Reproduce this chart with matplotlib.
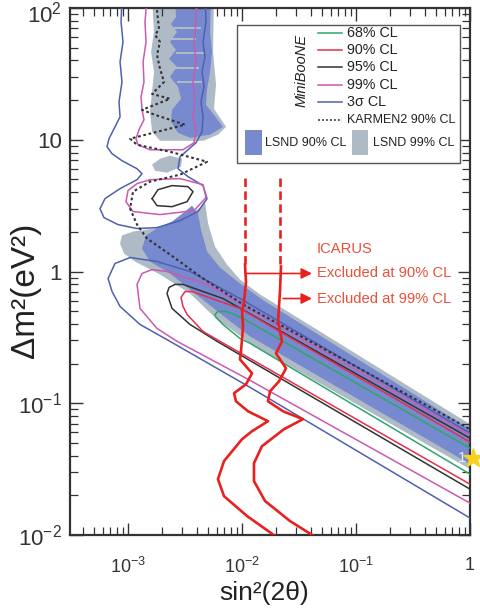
import numpy as np
import matplotlib
matplotlib.use('Agg')
import matplotlib.pyplot as plt
from matplotlib.patches import Rectangle
from matplotlib.lines import Line2D
from matplotlib.ticker import LogLocator, NullFormatter

plt.rcParams['font.family'] = ['Liberation Sans', 'DejaVu Sans']
plt.rcParams['mathtext.fontset'] = 'custom'
plt.rcParams['mathtext.rm'] = 'Liberation Sans'
plt.rcParams['mathtext.it'] = 'Liberation Sans:italic'
plt.rcParams['mathtext.bf'] = 'Liberation Sans:bold'

# ---------------- data (log10 of sin^2(2theta), log10 of dm^2) ----------------
# LSND 99% CL (grey) regions
lsnd99_top_x = [-2.789, -2.772, -2.798, -2.772, -2.789, -2.807, -2.789, -2.719, -2.342, -2.211, -2.140, -2.246, -2.228, -2.254, -2.246]
lsnd99_top_y = [2.083, 1.818, 1.667, 1.515, 1.364, 1.212, 1.061, 0.992, 0.992, 1.038, 1.098, 1.235, 1.417, 1.667, 2.083]
lsnd99_blob_x = [-2.789, -2.719, -2.632, -2.526, -2.535, -2.658, -2.763]
lsnd99_blob_y = [0.811, 0.856, 0.879, 0.856, 0.795, 0.750, 0.765]
lsnd99_low_x = [-2.325, -2.298, -2.237, -2.132, -2.018, -1.842, 0.0, 0.0, -1.930, -2.105, -2.219, -2.456, -2.719,
                -2.939, -3.035, -3.070, -3.053, -2.956, -2.719, -2.518, -2.368]
lsnd99_low_y = [0.530, 0.364, 0.189, 0.053, -0.061, -0.174, -1.159, -1.500, -0.545, -0.432, -0.364, -0.167, -0.023,
                0.076, 0.136, 0.212, 0.273, 0.303, 0.333, 0.394, 0.485]

# LSND 90% CL (blue) regions
lsnd90_top_x = [-2.588, -2.579, -2.623, -2.570, -2.632, -2.579, -2.640, -2.570, -2.632, -2.561, -2.535, -2.614,
                -2.623, -2.561, -2.456, -2.281, -2.167, -2.246, -2.316, -2.307, -2.281, -2.263, -2.281, -2.272]
lsnd90_top_y = [2.083, 1.932, 1.879, 1.818, 1.742, 1.682, 1.614, 1.553, 1.477, 1.402, 1.311, 1.227,
                1.136, 1.053, 1.015, 1.038, 1.098, 1.189, 1.265, 1.379, 1.515, 1.667, 1.818, 2.083]
# thin grey gaps (horizontal stripes) inside the upper blue region: [x_left, x_right, y_low, y_high]
lsnd90_gap_xl = [-2.60, -2.62, -2.58, -2.60, -2.57]
lsnd90_gap_xr = [-2.36, -2.40, -2.33, -2.38, -2.35]
lsnd90_gap_ylo = [1.840, 1.760, 1.650, 1.540, 1.430]
lsnd90_gap_yhi = [1.852, 1.772, 1.664, 1.552, 1.445]
lsnd90_low_x = [-2.439, -2.386, -2.360, -2.307, -2.193, -2.018, -1.825, 0.0, 0.0, -1.930, -2.149, -2.368, -2.632,
                -2.807, -2.877, -2.842, -2.737, -2.614, -2.500]
lsnd90_low_y = [0.500, 0.439, 0.318, 0.152, 0.030, -0.091, -0.212, -1.197, -1.462, -0.492, -0.348, -0.197, -0.015,
                0.076, 0.174, 0.273, 0.333, 0.379, 0.455]

# MiniBooNE contours
mb3s_up_x = [-3.053, -3.061, -3.044, -3.070, -3.053, -3.079, -3.070, -3.123, -3.167, -3.184, -3.140, -3.053, -2.921,
             -2.877, -2.921, -3.070, -3.202, -3.246, -3.211, -3.088, -2.921, -2.746, -2.544, -2.386, -2.307, -2.342,
             -2.474, -2.561, -2.544, -2.404, -2.351, -2.342, -2.360, -2.333, -2.351, -2.325, -2.342, -2.316, -2.325]
mb3s_up_y = [2.083, 1.894, 1.742, 1.591, 1.439, 1.288, 1.174, 1.083, 1.008, 0.947, 0.894, 0.841, 0.780,
             0.742, 0.697, 0.629, 0.553, 0.477, 0.409, 0.356, 0.326, 0.333, 0.386, 0.455, 0.553, 0.652,
             0.720, 0.780, 0.871, 0.977, 1.061, 1.174, 1.288, 1.402, 1.515, 1.629, 1.742, 1.894, 2.083]
mb3s_low_x = [0.0, -2.018, -2.456, -2.746, -2.982, -3.114, -3.175, -3.140, -3.070, -2.895, -2.632, -1.930, 0.0]
mb3s_low_y = [-1.227, -0.205, 0.0, 0.076, 0.106, 0.061, -0.053, -0.152, -0.265, -0.402, -0.530, -0.879, -1.871]

mb99_up_x = [-2.833, -2.851, -2.842, -2.868, -2.860, -2.886, -2.877, -2.860, -2.904, -2.930, -2.912, -2.807,
             -2.518, -2.421, -2.404, -2.430, -2.412, -2.430, -2.404, -2.421, -2.404, -2.395]
mb99_up_y = [2.083, 1.894, 1.742, 1.591, 1.439, 1.326, 1.227, 1.152, 1.076, 1.008, 0.962, 0.924,
             0.924, 0.977, 1.061, 1.174, 1.288, 1.439, 1.591, 1.742, 1.894, 2.083]
mb99_ring_x = [-2.807, -2.544, -2.342, -2.316, -2.421, -2.719, -2.956, -3.018, -3.000, -2.921, -2.807]
mb99_ring_y = [0.697, 0.705, 0.659, 0.561, 0.462, 0.432, 0.455, 0.530, 0.614, 0.667, 0.697]
mb99_low_x = [0.0, -2.307, -2.658, -2.789, -2.877, -2.921, -2.895, -2.746, -2.570, -1.930, 0.0]
mb99_low_y = [-1.242, -0.098, 0.0, 0.015, -0.015, -0.098, -0.280, -0.432, -0.530, -0.826, -1.758]

mb95_ell_x = [-2.789, -2.737, -2.614, -2.474, -2.430, -2.482, -2.614, -2.746, -2.789]
mb95_ell_y = [0.553, 0.621, 0.652, 0.644, 0.606, 0.530, 0.492, 0.500, 0.553]
mb95_low_x = [0.0, -2.167, -2.518, -2.588, -2.640, -2.658, -2.614, -2.456, -2.219, 0.0]
mb95_low_y = [-1.265, -0.205, -0.098, -0.098, -0.121, -0.167, -0.280, -0.402, -0.530, -1.652]

mb90_low_x = [0.0, -2.018, -2.439, -2.500, -2.535, -2.518, -2.482, -2.342, -2.193, 0.0]
mb90_low_y = [-1.295, -0.280, -0.152, -0.152, -0.197, -0.265, -0.326, -0.455, -0.530, -1.614]

mb68_low_x = [0.0, -1.991, -2.132, -2.211, -2.237, -2.228, -2.167, -2.018, -1.930, 0.0]
mb68_low_y = [-1.341, -0.356, -0.303, -0.303, -0.326, -0.348, -0.402, -0.508, -0.545, -1.538]

karmen_x = [-2.746, -2.728, -2.763, -2.719, -2.746, -2.719, -2.684, -2.789, -2.632, -2.877, -2.763, -2.500,
            -2.982, -2.921, -2.632, -2.307, -2.544, -2.807, -2.956, -2.982, -2.921, -2.833, -2.632, -2.342, -1.991, 0.0]
karmen_y = [1.985, 1.841, 1.795, 1.742, 1.644, 1.538, 1.439, 1.348, 1.311, 1.227, 1.189, 1.114,
            1.008, 0.962, 0.909, 0.833, 0.735, 0.682, 0.606, 0.477, 0.356, 0.250, 0.129, -0.053, -0.250, -1.197]

# ICARUS limits
icarus90_x = [-1.974, -1.965, -1.982, -2.000, -1.991, -2.009, -2.018, -1.912, -1.965, -2.070, -2.053, -1.947, -1.772,
              -1.912, -2.000, -2.158, -2.211, -2.158, -1.956, -1.684]
icarus90_y = [0.053, -0.080, -0.227, -0.300, -0.420, -0.606, -0.667, -0.773, -0.856, -0.924, -0.985, -1.061, -1.136,
              -1.212, -1.273, -1.439, -1.576, -1.705, -1.856, -2.023]
icarus99_x = [-1.658, -1.667, -1.684, -1.649, -1.702, -1.614, -1.675, -1.754, -1.772, -1.640, -1.465, -1.632,
              -1.825, -1.895, -1.895, -1.798, -1.579, -1.342]
icarus99_y = [0.038, -0.152, -0.379, -0.530, -0.621, -0.735, -0.833, -0.909, -0.985, -1.061, -1.121, -1.197,
              -1.326, -1.455, -1.591, -1.742, -1.894, -2.023]
icarus_dash_x = [-1.974, -1.667]
icarus_dash_y = [0.712, 0.055]
arrow_start_x = [-1.974, -1.640]
arrow_tip_x = -1.386
arrow_y = [-0.015, -0.205]
icarus_text = ['ICARUS', 'Excluded at 90% CL', 'Excluded at 99% CL']
icarus_text_y = [0.167, -0.015, -0.205]
star_xy = (0.026, -1.417)

x_ticks = [1e-3, 1e-2, 1e-1, 1]
x_ticklabels = ['$10^{-3}$', '$10^{-2}$', '$10^{-1}$', '1']
y_ticks = [1e-2, 1e-1, 1, 10, 100]
y_ticklabels = ['$10^{-2}$', '$10^{-1}$', '1', '10', '']
y_top_label = '$10^{2}$'

# ---------------- styles ----------------
c_gray = '#aebac6'
c_blue = '#7789cf'
c_3s = '#4f5fb2'
c_99 = '#cc5aae'
c_95 = '#333333'
c_90 = '#e2304c'
c_68 = '#2fa56b'
c_ic = '#e8211f'
c_ictext = '#e8503a'

def L(v):
    return 10 ** np.asarray(v, dtype=float)

fig = plt.figure(figsize=(4.8, 6.13), dpi=100)
ax = fig.add_axes([70 / 480, 1 - 535 / 613, 400 / 480, 527 / 613])
ax.set_xscale('log')
ax.set_yscale('log')
ax.set_xlim(10 ** -3.509, 1)
ax.set_ylim(1e-2, 1e2)

# LSND regions
for xs, ys in [(lsnd99_top_x, lsnd99_top_y), (lsnd99_blob_x, lsnd99_blob_y), (lsnd99_low_x, lsnd99_low_y)]:
    ax.fill(L(xs), L(ys), color=c_gray, lw=0, zorder=1)
for xs, ys in [(lsnd90_top_x, lsnd90_top_y), (lsnd90_low_x, lsnd90_low_y)]:
    ax.fill(L(xs), L(ys), color=c_blue, lw=0, zorder=2)
for xl, xr, ylo, yhi in zip(lsnd90_gap_xl, lsnd90_gap_xr, lsnd90_gap_ylo, lsnd90_gap_yhi):
    ax.fill(L([xl, xr, xr, xl]), L([ylo, ylo, yhi, yhi]), color=c_gray, lw=0, zorder=2.5)

lw = 1.1
ax.plot(L(mb3s_up_x), L(mb3s_up_y), color=c_3s, lw=lw, zorder=3)
ax.plot(L(mb3s_low_x), L(mb3s_low_y), color=c_3s, lw=lw, zorder=3)
ax.plot(L(mb99_up_x), L(mb99_up_y), color=c_99, lw=lw, zorder=3)
ax.plot(L(mb99_ring_x), L(mb99_ring_y), color=c_99, lw=lw, zorder=3)
ax.plot(L(mb99_low_x), L(mb99_low_y), color=c_99, lw=lw, zorder=3)
ax.plot(L(mb95_ell_x), L(mb95_ell_y), color=c_95, lw=lw, zorder=3)
ax.plot(L(mb95_low_x), L(mb95_low_y), color=c_95, lw=lw, zorder=3)
ax.plot(L(mb90_low_x), L(mb90_low_y), color=c_90, lw=lw, zorder=3)
ax.plot(L(mb68_low_x), L(mb68_low_y), color=c_68, lw=lw, zorder=3)
ax.plot(L(karmen_x), L(karmen_y), color='#333333', lw=1.5, ls=(0, (1.3, 1.3)), zorder=4)

# ICARUS
ax.plot(L(icarus90_x), L(icarus90_y), color=c_ic, lw=1.9, zorder=6)
ax.plot(L(icarus99_x), L(icarus99_y), color=c_ic, lw=1.9, zorder=6)
for xv in icarus_dash_x:
    ax.plot(L([xv, xv]), L(icarus_dash_y), color=c_ic, lw=1.9, ls=(0, (3.2, 1.7)), zorder=6)
for xs, yv in zip(arrow_start_x, arrow_y):
    ax.annotate('', xy=(10 ** arrow_tip_x, 10 ** yv), xytext=(10 ** xs, 10 ** yv),
                arrowprops=dict(arrowstyle='-|>', color=c_ic, lw=1.2, mutation_scale=16,
                                shrinkA=0, shrinkB=0), zorder=6)
for t, yv in zip(icarus_text, icarus_text_y):
    ax.text(10 ** -1.342, 10 ** yv, t, color=c_ictext, fontsize=10.6, va='center', ha='left', zorder=7)

# star
ax.plot(10 ** star_xy[0], 10 ** star_xy[1], marker='*', ms=15, color='#f6d21e', mec='#f6d21e',
        clip_on=False, zorder=10)
ax.text(10 ** (star_xy[0] - 0.095), 10 ** star_xy[1], '1', color='#e6edf5', fontsize=11,
        va='center', ha='center', zorder=10)

# ---------------- legend (drawn manually) ----------------
def axp(px, py):
    return ((px - 70) / 400, (535 - py) / 527)

bx0, by0 = axp(237, 163)
bx1, by1 = axp(460, 25)
ax.add_patch(Rectangle((bx0, by0), bx1 - bx0, by1 - by0, transform=ax.transAxes, fill=True,
                       facecolor='white', edgecolor='#555555', lw=1.0, zorder=8))
mx, my = axp(302, 70)
ax.text(mx, my, 'MiniBooNE', transform=ax.transAxes, rotation=90, fontsize=10.5, style='italic',
        ha='center', va='center', color='#222222', zorder=9)
leg_labels = ['68% CL', '90% CL', '95% CL', '99% CL', '3σ CL', 'KARMEN2 90% CL']
leg_colors = [c_68, c_90, c_95, c_99, c_3s, '#333333']
leg_rows = [33, 50, 67, 85, 102, 120]
for lab, col, row in zip(leg_labels, leg_colors, leg_rows):
    x0, y0 = axp(318, row)
    x1, _ = axp(342, row)
    ls = (0, (1.3, 1.3)) if lab.startswith('KARMEN') else '-'
    ax.add_line(Line2D([x0, x1], [y0, y0], transform=ax.transAxes, color=col, lw=1.1, ls=ls, zorder=9))
    tx, _ = axp(347, row)
    ax.text(tx, y0, lab, transform=ax.transAxes, fontsize=9 if lab.startswith('KARMEN') else 10.3,
            va='center', ha='left', color='#222222', zorder=9)
for (p0, p1, tx0, col, lab) in [(245, 262, 265, c_blue, 'LSND 90% CL'), (352, 368, 373, c_gray, 'LSND 99% CL')]:
    x0, y0 = axp(p0, 155)
    x1, y1 = axp(p1, 130)
    ax.add_patch(Rectangle((x0, y0), x1 - x0, y1 - y0, transform=ax.transAxes, color=col, lw=0, zorder=9))
    tx, ty = axp(tx0, 143)
    ax.text(tx, ty, lab, transform=ax.transAxes, fontsize=9, va='center', ha='left', color='#222222', zorder=9)

# ---------------- axes styling ----------------
ax.set_xticks(x_ticks)
ax.set_xticklabels(x_ticklabels)
ax.set_yticks(y_ticks)
ax.set_yticklabels(y_ticklabels)
ax.xaxis.set_minor_locator(LogLocator(base=10, subs=np.arange(2, 10), numticks=20))
ax.yaxis.set_minor_locator(LogLocator(base=10, subs=np.arange(2, 10), numticks=20))
ax.xaxis.set_minor_formatter(NullFormatter())
ax.yaxis.set_minor_formatter(NullFormatter())
ax.tick_params(which='both', direction='in', top=True, right=True, color='#333333')
ax.tick_params(which='major', length=9, width=1.0)
ax.tick_params(which='minor', length=5.5, width=0.9)
ax.tick_params(axis='x', which='major', labelsize=13, pad=16, labelcolor='#333333')
ax.tick_params(axis='y', which='major', labelsize=16, pad=6, labelcolor='#333333')
# top y tick label nudged down slightly so it stays inside the figure
ax.annotate(y_top_label, xy=(0, 1), xycoords='axes fraction', xytext=(-6, -5), textcoords='offset points',
            ha='right', va='center', fontsize=16, color='#333333')
for s in ax.spines.values():
    s.set_linewidth(1.6)
    s.set_color('#333333')

fig.text(264 / 480, 1 - 593 / 613, 'sin²(2θ)', fontsize=19, ha='center', va='center', color='#222222')
fig.text(25 / 480, 1 - 290 / 613, 'Δm²(eV²)', fontsize=24, rotation=90, ha='center', va='center',
         color='#222222')

fig.savefig('out.png', dpi=100)
